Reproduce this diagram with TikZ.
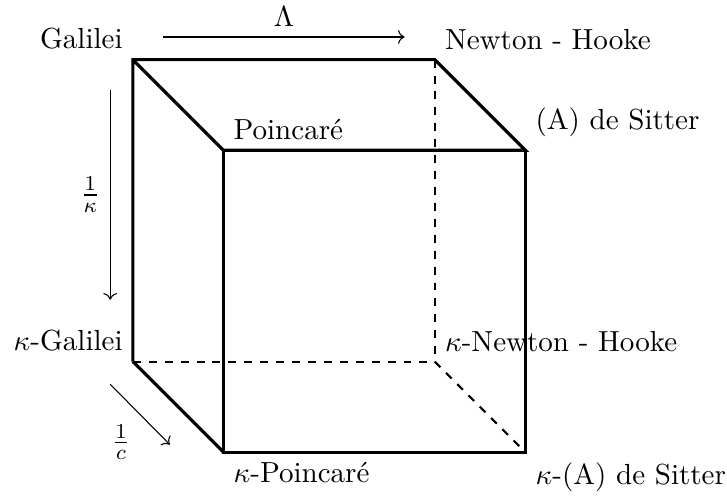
\documentclass[tikz,border=0pt,11pt]{standalone}
\usepackage{amsmath}
\usepackage{tikz}
\usetikzlibrary{arrows.meta,positioning,calc}

\begin{document}
\begin{tikzpicture}[font=\normalsize,
    edge/.style={very thick},
    hidden/.style={thick, dashed}]
  \useasboundingbox (-1.76,-1.77) rectangle (7.87,4.79);

  % back face
  \coordinate (gal) at (0,4);
  \coordinate (nh) at (4,4);
  \coordinate (kgal) at (0,0);
  \coordinate (knh) at (4,0);
  % front face
  \coordinate (poi) at (1.2,2.8);
  \coordinate (ads) at (5.2,2.8);
  \coordinate (kpoi) at (1.2,-1.2);
  \coordinate (kads) at (5.2,-1.2);

  \draw[edge] (kgal) -- (gal) -- (nh) -- (ads) -- (poi) -- (gal);
  \draw[edge] (poi) -- (kpoi) -- (kads) -- (ads);
  \draw[edge] (kgal) -- (kpoi);
  \foreach \a/\b in {nh/knh, kgal/knh, knh/kads}{
    \draw[hidden] (\a) -- (\b);
  }

  % corner labels
  \node[above left] (galLab) at (gal){Galilei};
  \node[above right] (nhLab) at (nh){Newton - Hooke};
  \node[above right] (poiLab) at (poi){Poincar\'e};
  \node[above right, yshift=0.04cm] (adsLab) at (ads){(A) de Sitter};
  \node[above left] (kgalLab) at (kgal){$\kappa$-Galilei};
  \node[above right] (knhLab) at (knh){$\kappa$-Newton - Hooke};
  \node[below right] (kpoiLab) at (kpoi){$\kappa$-Poincar\'e};
  \node[below right] (kadsLab) at (kads){$\kappa$-(A) de Sitter};

  % contraction arrows
  \coordinate (lamS) at (0.4,4.3);
  \coordinate (lamE) at (3.6,4.3);
  \draw[->] (lamS) -- node[above] (lam){$\Lambda$} (lamE);

  \coordinate (kapS) at (-0.3,3.6);
  \coordinate (kapE) at (-0.3,0.82);
  \draw[->] (kapS) -- node[left] (kap){$\frac{1}{\kappa}$} (kapE);

  \coordinate (cS) at (-0.3,-0.3);
  \coordinate (cE) at (0.49,-1.1);
  \draw[->] (cS) -- node[below left] (cinv){$\frac{1}{c}$} (cE);
\end{tikzpicture}
\end{document}
